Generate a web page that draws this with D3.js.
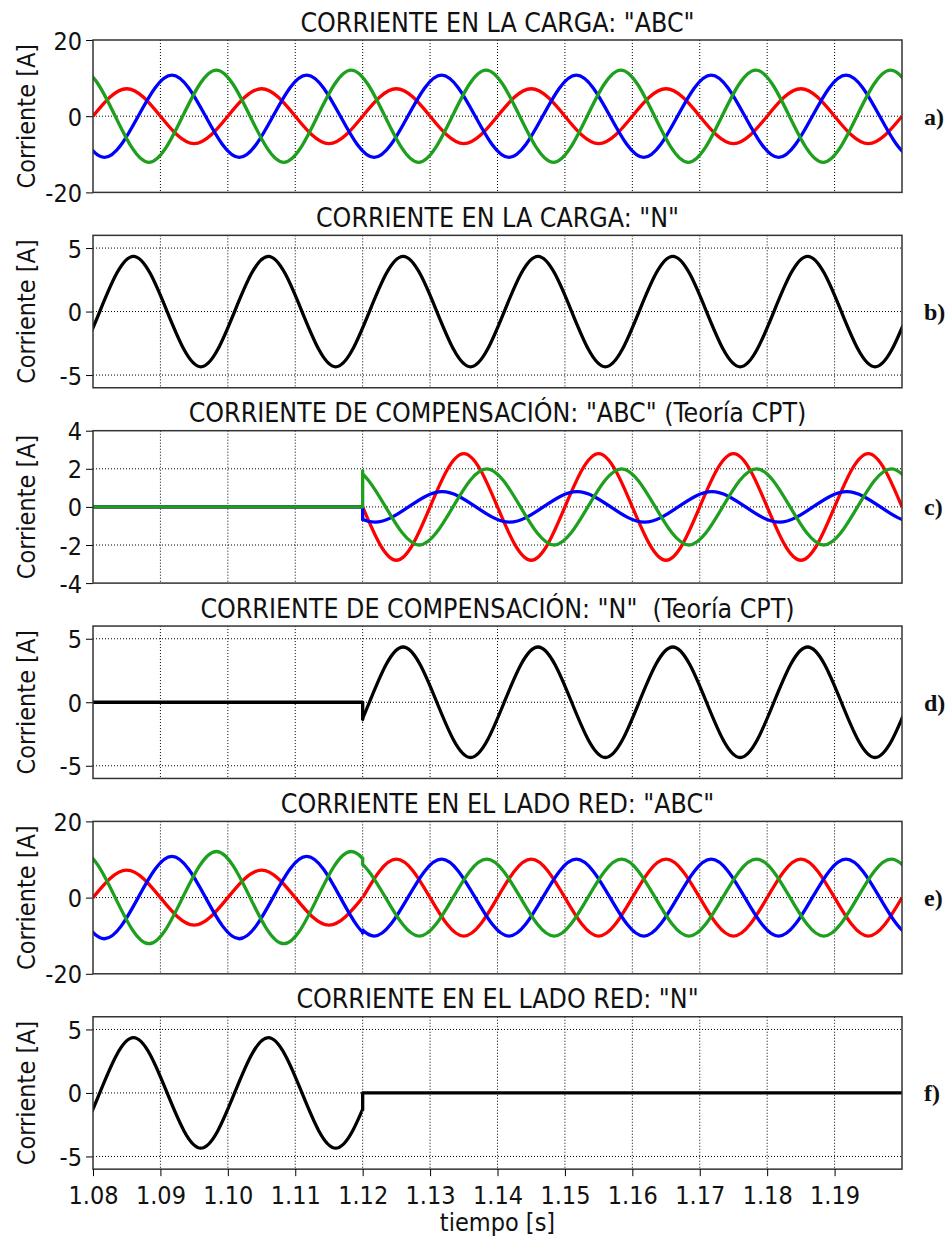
<!DOCTYPE html>
<html lang="es">
<head>
<meta charset="UTF-8">
<title>Corrientes CPT</title>
<script src="https://d3js.org/d3.v7.min.js"></script>
<style>
  body { margin: 0; background: #fff; }
  svg text { font-family: "DejaVu Sans Condensed", "DejaVu Sans", sans-serif; fill: #111; }
  .tag { font-family: "Liberation Serif", "Times New Roman", serif; font-weight: bold; font-size: 24px; }
</style>
</head>
<body>
<div id="chart"></div>
<script>
// puntos clave (picos y pasos por cero), cada cuarto de periodo (50 Hz)
const STEP = 0.005;
const tiempoTicks = [1.08, 1.09, 1.10, 1.11, 1.12, 1.13, 1.14, 1.15, 1.16, 1.17, 1.18, 1.19];
const T_ON = 1.12; // entrada del compensador

// corriente en la carga, fases A (rojo), B (azul), C (verde) y neutro
const cargaR_t0 = 1.080;
const cargaR = [0, 7.2, 0, -7.2, 0, 7.2, 0, -7.2, 0, 7.2, 0, -7.2, 0, 7.2, 0, -7.2, 0, 7.2, 0, -7.2, 0, 7.2, 0, -7.2, 0];
const cargaB_t0 = 1.0767;
const cargaB = [0, -10.8, 0, 10.8, 0, -10.8, 0, 10.8, 0, -10.8, 0, 10.8, 0, -10.8, 0, 10.8, 0, -10.8, 0, 10.8, 0, -10.8, 0, 10.8, 0, -10.8, 0];
const cargaG_t0 = 1.0733;
const cargaG = [0, 12.1, 0, -12.1, 0, 12.1, 0, -12.1, 0, 12.1, 0, -12.1, 0, 12.1, 0, -12.1, 0, 12.1, 0, -12.1, 0, 12.1, 0, -12.1, 0, 12.1, 0];
const cargaN_t0 = 1.071;
const cargaN = [0, -4.35, 0, 4.35, 0, -4.35, 0, 4.35, 0, -4.35, 0, 4.35, 0, -4.35, 0, 4.35, 0, -4.35, 0, 4.35, 0, -4.35, 0, 4.35, 0, -4.35, 0];

// corriente de compensacion ABC (desde 1.12 s)
const compR_t0 = 1.12;
const compR = [0, -2.8, 0, 2.8, 0, -2.8, 0, 2.8, 0, -2.8, 0, 2.8, 0, -2.8, 0, 2.8, 0];
const compB_t0 = 1.1168;
const compB = [0, -0.8, 0, 0.8, 0, -0.8, 0, 0.8, 0, -0.8, 0, 0.8, 0, -0.8, 0, 0.8, 0, -0.8, 0];
const compG_t0 = 1.1134;
const compG = [0, 2.0, 0, -2.0, 0, 2.0, 0, -2.0, 0, 2.0, 0, -2.0, 0, 2.0, 0, -2.0, 0, 2.0, 0];

// corriente en el lado red ABC (desde 1.12 s)
const redR_t0 = 1.12;
const redR = [0, 10.1, 0, -10.1, 0, 10.1, 0, -10.1, 0, 10.1, 0, -10.1, 0, 10.1, 0, -10.1, 0];
const redB_t0 = 1.1167;
const redB = [0, -10.1, 0, 10.1, 0, -10.1, 0, 10.1, 0, -10.1, 0, 10.1, 0, -10.1, 0, 10.1, 0, -10.1, 0];
const redG_t0 = 1.1134;
const redG = [0, 10.1, 0, -10.1, 0, 10.1, 0, -10.1, 0, 10.1, 0, -10.1, 0, 10.1, 0, -10.1, 0, 10.1, 0];

const cero = [0, 0];

// saltos en t = 1.12 s  [antes, despues]
const saltoCompB = [0, -0.68];
const saltoCompG = [0, 1.9];
const saltoCompN = [0, -1.34];
const saltoRedB = [-9.3, -8.7];
const saltoRedG = [10.4, 8.7];
const saltoRedN = [-1.34, 0];

const RED = "#ff0000", BLUE = "#0000ff", GREEN = "#1ea01e", BLACK = "#000";

function seg(t0, v, from, to, step) { return { t0, v, from, to, step: step || STEP }; }

const panels = [
  { title: 'CORRIENTE EN LA CARGA: "ABC"', tag: "a)", dom: [-20, 20], ticks: [-20, 0, 20], series: [
      { c: RED, segs: [seg(cargaR_t0, cargaR, 1.08, 1.2)] },
      { c: BLUE, segs: [seg(cargaB_t0, cargaB, 1.08, 1.2)] },
      { c: GREEN, segs: [seg(cargaG_t0, cargaG, 1.08, 1.2)] } ] },
  { title: 'CORRIENTE EN LA CARGA: "N"', tag: "b)", dom: [-6, 6], ticks: [-5, 0, 5], series: [
      { c: BLACK, segs: [seg(cargaN_t0, cargaN, 1.08, 1.2)] } ] },
  { title: 'CORRIENTE DE COMPENSACIÓN: "ABC" (Teoría CPT)', tag: "c)", dom: [-4, 4], ticks: [-4, -2, 0, 2, 4], series: [
      { c: RED, segs: [seg(1.08, cero, 1.08, T_ON, 0.04), seg(compR_t0, compR, T_ON, 1.2)] },
      { c: BLUE, segs: [seg(1.08, cero, 1.08, T_ON, 0.04), seg(compB_t0, compB, T_ON, 1.2)], jump: saltoCompB },
      { c: GREEN, segs: [seg(1.08, cero, 1.08, T_ON, 0.04), seg(compG_t0, compG, T_ON, 1.2)], jump: saltoCompG } ] },
  { title: 'CORRIENTE DE COMPENSACIÓN: "N"  (Teoría CPT)', tag: "d)", dom: [-6, 6], ticks: [-5, 0, 5], series: [
      { c: BLACK, segs: [seg(1.08, cero, 1.08, T_ON, 0.04), seg(cargaN_t0, cargaN, T_ON, 1.2)], jump: saltoCompN } ] },
  { title: 'CORRIENTE EN EL LADO RED: "ABC"', tag: "e)", dom: [-20, 20], ticks: [-20, 0, 20], series: [
      { c: RED, segs: [seg(cargaR_t0, cargaR, 1.08, T_ON), seg(redR_t0, redR, T_ON, 1.2)] },
      { c: BLUE, segs: [seg(cargaB_t0, cargaB, 1.08, T_ON), seg(redB_t0, redB, T_ON, 1.2)], jump: saltoRedB },
      { c: GREEN, segs: [seg(cargaG_t0, cargaG, 1.08, T_ON), seg(redG_t0, redG, T_ON, 1.2)], jump: saltoRedG } ] },
  { title: 'CORRIENTE EN EL LADO RED: "N"', tag: "f)", dom: [-6, 6], ticks: [-5, 0, 5], series: [
      { c: BLACK, segs: [seg(cargaN_t0, cargaN, 1.08, T_ON), seg(T_ON, cero, T_ON, 1.2, 0.08)], jump: saltoRedN } ] }
];

const width = 949, height = 1238;
const left = 93, right = 902;
const top0 = 40, pitch = 195.35, ph = 152.4;

const svg = d3.select("#chart").append("svg")
    .attr("width", width).attr("height", height);

const x = d3.scaleLinear().domain([1.08, 1.2]).range([left, right]);

let clipId = 0;
panels.forEach((p, i) => {
  const top = top0 + i * pitch;
  const y = d3.scaleLinear().domain(p.dom).range([top + ph, top]);
  const g = svg.append("g");

  // rejilla punteada
  g.selectAll(".vg").data(tiempoTicks.slice(1)).join("line")
      .attr("x1", d => x(d)).attr("x2", d => x(d))
      .attr("y1", top).attr("y2", top + ph)
      .attr("stroke", "#000").attr("stroke-width", 1).attr("stroke-dasharray", "1,2");
  g.selectAll(".hg").data(p.ticks.filter(v => v > p.dom[0] && v < p.dom[1])).join("line")
      .attr("x1", left).attr("x2", right)
      .attr("y1", d => y(d)).attr("y2", d => y(d))
      .attr("stroke", "#000").attr("stroke-width", 1).attr("stroke-dasharray", "1,2");

  // eje y
  const ay = g.append("g").attr("transform", `translate(${left},0)`)
      .call(d3.axisLeft(y).tickValues(p.ticks).tickSize(7).tickPadding(4).tickFormat(d => String(d)));
  ay.select(".domain").remove();
  ay.selectAll("text").attr("font-size", 25).attr("dy", "0.36em")
      .style("font-family", '"DejaVu Sans Condensed", "DejaVu Sans", sans-serif');

  // curvas
  const line = d3.line().x(d => x(d[0])).y(d => y(d[1])).curve(d3.curveNatural);
  p.series.forEach(s => {
    s.segs.forEach(sg => {
      const id = "clip" + (clipId++);
      svg.append("clipPath").attr("id", id).append("rect")
          .attr("x", x(sg.from)).attr("width", x(sg.to) - x(sg.from))
          .attr("y", top - 3).attr("height", ph + 6);
      const pts = sg.v.map((v, k) => [sg.t0 + k * sg.step, v]);
      g.append("path").datum(pts)
          .attr("clip-path", `url(#${id})`)
          .attr("d", line)
          .attr("fill", "none").attr("stroke", s.c).attr("stroke-width", 3.3);
    });
    if (s.jump) {
      g.append("path").datum(s.jump.map(v => [T_ON, v]))
          .attr("d", d3.line().x(d => x(d[0])).y(d => y(d[1])))
          .attr("fill", "none").attr("stroke", s.c).attr("stroke-width", 3.3)
          .attr("stroke-linecap", "round");
    }
  });

  // marco
  g.append("rect").attr("x", left).attr("y", top).attr("width", right - left).attr("height", ph)
      .attr("fill", "none").attr("stroke", "#333").attr("stroke-width", 1.5);

  // titulo
  g.append("text").attr("x", (left + right) / 2).attr("y", top - 8.5)
      .attr("text-anchor", "middle").attr("font-size", 26.5)
      .style("white-space", "pre").text(p.title);

  // etiqueta eje y
  g.append("text").attr("transform", `translate(35,${top + ph / 2}) rotate(-90)`)
      .attr("text-anchor", "middle").attr("font-size", 25).text("Corriente [A]");

  // letra del panel
  g.append("text").attr("class", "tag").attr("x", 924).attr("y", y(0)).attr("dy", "0.35em").text(p.tag);

  // eje x en el ultimo panel
  if (i === panels.length - 1) {
    const ax = g.append("g").attr("transform", `translate(0,${top + ph})`)
        .call(d3.axisBottom(x).tickValues(tiempoTicks).tickSize(7).tickPadding(10).tickFormat(d3.format(".2f")));
    ax.select(".domain").remove();
    ax.selectAll("text").attr("font-size", 25)
        .style("font-family", '"DejaVu Sans Condensed", "DejaVu Sans", sans-serif');
    g.append("text").attr("x", (left + right) / 2).attr("y", 1231)
        .attr("text-anchor", "middle").attr("font-size", 25).text("tiempo [s]");
  }
});
</script>
</body>
</html>
